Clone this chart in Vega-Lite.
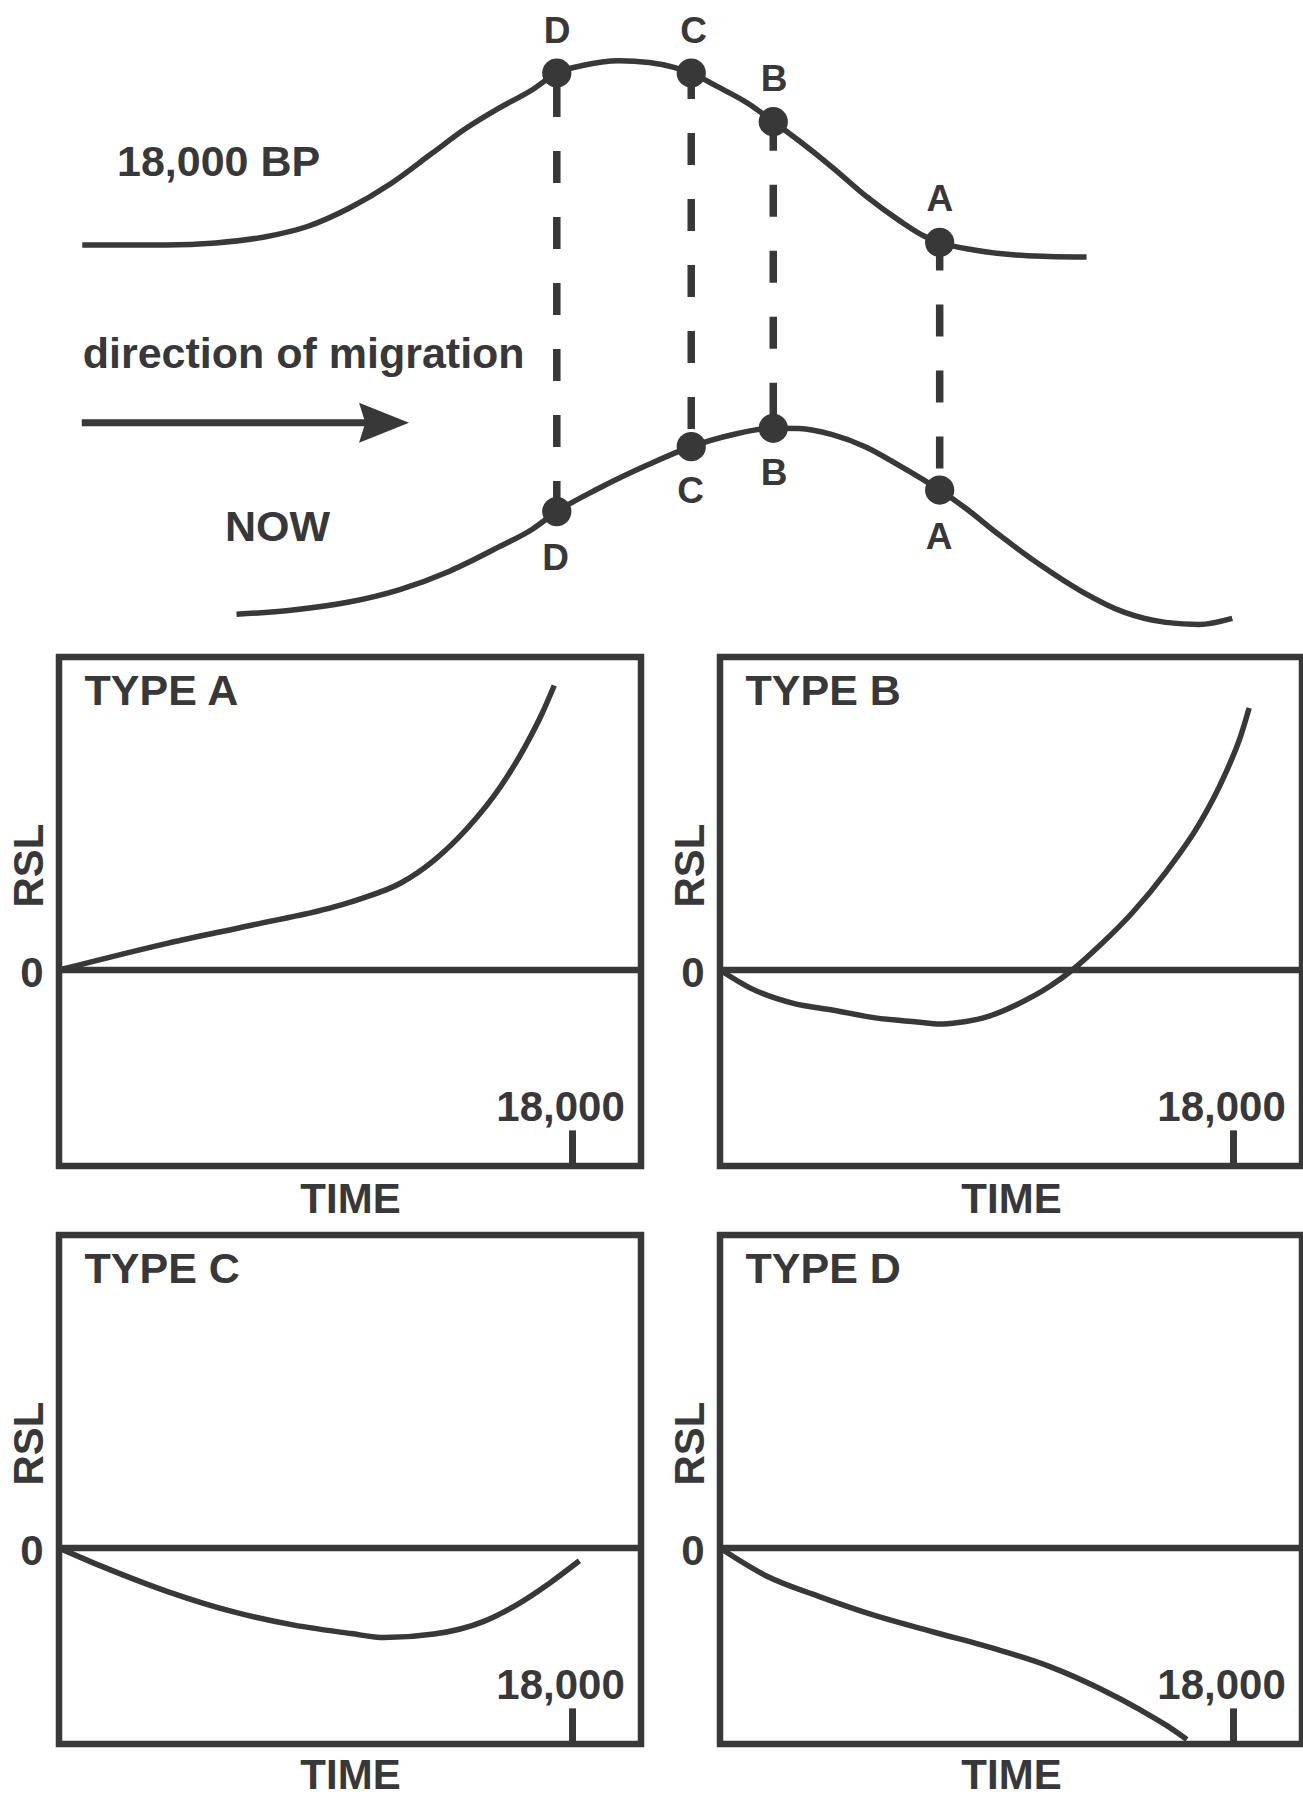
{
  "$schema": "https://vega.github.io/schema/vega-lite/v6.json",
  "padding": {"left": 4, "top": 0, "right": 0, "bottom": 0},
  "background": "white",
  "config": {
    "font": "Liberation Sans",
    "view": {"stroke": null},
    "axis": {"labelFont": "Liberation Sans", "titleFont": "Liberation Sans", "labelFontWeight": "bold", "titleFontWeight": "bold", "labelFontSize": 42, "titleFontSize": 42, "labelColor": "#383838", "titleColor": "#383838", "grid": false, "ticks": false, "domain": false},
    "text": {"font": "Liberation Sans", "fontWeight": "bold", "color": "#383838", "fontSize": 42}
  },
  "datasets": {
    "past": [
      {"pos": 5.74, "level": 61.13}, {"pos": 12.19, "level": 61.13}, {"pos": 16.05, "level": 61.44}, {"pos": 19.92, "level": 62.43},
      {"pos": 23.13, "level": 64.05}, {"pos": 26.35, "level": 66.95}, {"pos": 29.57, "level": 70.84}, {"pos": 32.79, "level": 75.7},
      {"pos": 35.37, "level": 79.59}, {"pos": 37.94, "level": 82.83}, {"pos": 40.52, "level": 85.75}, {"pos": 42.41, "level": 88.41},
      {"pos": 44.38, "level": 89.6}, {"pos": 47.22, "level": 90.37}, {"pos": 49.54, "level": 90.08}, {"pos": 51.47, "level": 89.32},
      {"pos": 52.8, "level": 88.41}, {"pos": 54.69, "level": 86.4}, {"pos": 57.26, "level": 83.49}, {"pos": 59.14, "level": 80.68},
      {"pos": 61.13, "level": 77.65}, {"pos": 63.7, "level": 73.44}, {"pos": 66.28, "level": 68.9}, {"pos": 68.86, "level": 65.02},
      {"pos": 70.79, "level": 62.54}, {"pos": 72.0, "level": 61.51}, {"pos": 74.65, "level": 60.32}, {"pos": 77.87, "level": 59.51},
      {"pos": 80.45, "level": 59.29}, {"pos": 83.35, "level": 59.19}
    ],
    "now": [
      {"pos": 17.66, "level": 2.49}, {"pos": 21.85, "level": 3.14}, {"pos": 26.35, "level": 4.44}, {"pos": 30.22, "level": 6.38},
      {"pos": 34.08, "level": 9.3}, {"pos": 37.94, "level": 13.19}, {"pos": 40.52, "level": 16.0}, {"pos": 42.41, "level": 18.8},
      {"pos": 45.67, "level": 22.5}, {"pos": 49.54, "level": 26.3}, {"pos": 52.8, "level": 29.1}, {"pos": 55.97, "level": 31.0},
      {"pos": 59.14, "level": 32.02}, {"pos": 61.13, "level": 31.98}, {"pos": 63.7, "level": 31.0}, {"pos": 66.28, "level": 29.06},
      {"pos": 68.86, "level": 26.14}, {"pos": 72.0, "level": 22.22}, {"pos": 74.01, "level": 19.33}, {"pos": 76.58, "level": 15.13},
      {"pos": 79.81, "level": 10.27}, {"pos": 83.02, "level": 6.06}, {"pos": 86.24, "level": 2.83}, {"pos": 89.47, "level": 1.21},
      {"pos": 92.04, "level": 0.87}, {"pos": 94.61, "level": 1.84}
    ],
    "links": [
      {"site": "D", "pos": 42.41, "level": 88.41, "level2": 18.8},
      {"site": "C", "pos": 52.8, "level": 88.41, "level2": 29.1},
      {"site": "B", "pos": 59.14, "level": 80.68, "level2": 32.02},
      {"site": "A", "pos": 72.0, "level": 61.51, "level2": 22.22}
    ],
    "dots": [
      {"site": "D", "pos": 42.41, "level": 88.41}, {"site": "C", "pos": 52.8, "level": 88.41},
      {"site": "B", "pos": 59.14, "level": 80.68}, {"site": "A", "pos": 72.0, "level": 61.51},
      {"site": "D", "pos": 42.41, "level": 18.8}, {"site": "C", "pos": 52.8, "level": 29.1},
      {"site": "B", "pos": 59.14, "level": 32.02}, {"site": "A", "pos": 72.0, "level": 22.22}
    ],
    "letters": [
      {"pos": 42.43, "level": 94.92, "label": "D"}, {"pos": 52.99, "level": 94.92, "label": "C"},
      {"pos": 59.21, "level": 87.3, "label": "B"}, {"pos": 72.02, "level": 68.33, "label": "A"},
      {"pos": 42.31, "level": 11.3, "label": "D"}, {"pos": 52.75, "level": 21.9, "label": "C"},
      {"pos": 59.21, "level": 24.81, "label": "B"}, {"pos": 71.95, "level": 14.62, "label": "A"}
    ],
    "notes": [
      {"pos": 8.42, "level": 72.14, "label": "18,000 BP"},
      {"pos": 5.77, "level": 41.59, "label": "direction of migration"},
      {"pos": 16.77, "level": 14.17, "label": "NOW"}
    ],
    "arrow": [{"pos": 5.7, "level": 32.9}, {"pos": 28.0, "level": 32.9}],
    "arrowhead": [{"pos": 29.06, "level": 32.9}],
    "typeA": [
      {"time": 0, "rsl": 0}, {"time": 3832, "rsl": 5.3}, {"time": 6742, "rsl": 8.8}, {"time": 9641, "rsl": 12.4},
      {"time": 10514, "rsl": 13.9}, {"time": 11981, "rsl": 17.1}, {"time": 13134, "rsl": 21.5}, {"time": 14321, "rsl": 27.9},
      {"time": 15474, "rsl": 36.0}, {"time": 16347, "rsl": 44.0}, {"time": 16941, "rsl": 50.5}, {"time": 17360, "rsl": 55.9}
    ],
    "typeB": [
      {"time": 0, "rsl": 0}, {"time": 1083, "rsl": -3.6}, {"time": 2539, "rsl": -6.5}, {"time": 3982, "rsl": -7.9},
      {"time": 5449, "rsl": -9.4}, {"time": 6906, "rsl": -10.2}, {"time": 7700, "rsl": -10.6}, {"time": 8359, "rsl": -10.3}, {"time": 9232, "rsl": -9.4},
      {"time": 10399, "rsl": -6.8}, {"time": 11562, "rsl": -3.2}, {"time": 12435, "rsl": 0.4}, {"time": 13308, "rsl": 4.8},
      {"time": 14461, "rsl": 11.3}, {"time": 15638, "rsl": 19.3}, {"time": 16801, "rsl": 28.7}, {"time": 17675, "rsl": 38.1},
      {"time": 18258, "rsl": 46.1}, {"time": 18548, "rsl": 51.5}
    ],
    "typeC": [
      {"time": 0, "rsl": 0}, {"time": 1502, "rsl": -3.6}, {"time": 3832, "rsl": -8.6}, {"time": 6158, "rsl": -12.6},
      {"time": 8198, "rsl": -15.1}, {"time": 10234, "rsl": -16.8}, {"time": 11398, "rsl": -17.6}, {"time": 13144, "rsl": -16.9},
      {"time": 14891, "rsl": -14.4}, {"time": 16057, "rsl": -11.1}, {"time": 17220, "rsl": -6.8}, {"time": 18240, "rsl": -2.5}
    ],
    "typeD": [
      {"time": 0, "rsl": 0}, {"time": 1666, "rsl": -5.6}, {"time": 3413, "rsl": -9.4},
      {"time": 5449, "rsl": -13.3}, {"time": 7486, "rsl": -16.5}, {"time": 9815, "rsl": -20.1}, {"time": 11562, "rsl": -23.3},
      {"time": 13308, "rsl": -27.6}, {"time": 14765, "rsl": -31.9}, {"time": 15638, "rsl": -34.8}, {"time": 16365, "rsl": -37.6}
    ]
  },
  "spacing": 17,
  "vconcat": [
    {
      "width": 1243,
      "height": 630,
      "view": {"stroke": null},
      "encoding": {
        "x": {"field": "pos", "type": "quantitative", "scale": {"domain": [3.94, 100], "nice": false, "zero": false}, "axis": null},
        "y": {"field": "level", "type": "quantitative", "scale": {"domain": [0, 100], "nice": false, "zero": false}, "axis": null}
      },
      "layer": [
        {"data": {"name": "past"}, "mark": {"type": "line", "interpolate": "monotone", "color": "#383838", "strokeWidth": 5.5}},
        {"data": {"name": "now"}, "mark": {"type": "line", "interpolate": "monotone", "color": "#383838", "strokeWidth": 5.5}},
        {"data": {"name": "links"}, "transform": [{"filter": "datum.site == 'D'"}], "mark": {"type": "rule", "color": "#383838", "strokeWidth": 7.5, "strokeDash": [32, 34], "strokeDashOffset": 54}, "encoding": {"y2": {"field": "level2"}}},
        {"data": {"name": "links"}, "transform": [{"filter": "datum.site == 'C'"}], "mark": {"type": "rule", "color": "#383838", "strokeWidth": 7.5, "strokeDash": [32, 34], "strokeDashOffset": 6}, "encoding": {"y2": {"field": "level2"}}},
        {"data": {"name": "links"}, "transform": [{"filter": "datum.site == 'B'"}], "mark": {"type": "rule", "color": "#383838", "strokeWidth": 7.5, "strokeDash": [32, 34], "strokeDashOffset": 3}, "encoding": {"y2": {"field": "level2"}}},
        {"data": {"name": "links"}, "transform": [{"filter": "datum.site == 'A'"}], "mark": {"type": "rule", "color": "#383838", "strokeWidth": 7.5, "strokeDash": [32, 34], "strokeDashOffset": 4}, "encoding": {"y2": {"field": "level2"}}},
        {"data": {"name": "dots"}, "mark": {"type": "point", "shape": "circle", "filled": true, "opacity": 1, "color": "#383838", "size": 855}},
        {"data": {"name": "letters"}, "mark": {"type": "text", "align": "center", "baseline": "middle", "fontSize": 37, "fontWeight": "bold", "color": "#383838"}, "encoding": {"text": {"field": "label"}}},
        {"data": {"name": "notes"}, "mark": {"type": "text", "align": "left", "baseline": "alphabetic", "fontSize": 43, "fontWeight": "bold", "color": "#383838"}, "encoding": {"text": {"field": "label"}}},
        {"data": {"name": "arrow"}, "mark": {"type": "line", "color": "#383838", "strokeWidth": 7, "strokeCap": "butt"}},
        {"data": {"name": "arrowhead"}, "mark": {"type": "point", "shape": "M1,0L-1,-0.8L-0.75,0L-1,0.8Z", "filled": true, "opacity": 1, "color": "#383838", "size": 2500}}
      ]
    },
    {
      "spacing": 7,
      "vconcat": [
        {
          "spacing": 17,
          "hconcat": [
            {
              "width": 582, "height": 509,
              "view": {"stroke": "#383838", "strokeWidth": 6.5},
              "encoding": {
                "x": {"field": "time", "type": "quantitative", "scale": {"domain": [0, 20400], "nice": false, "zero": false}, "axis": {"title": "TIME", "labels": false, "titlePadding": 13}},
                "y": {"field": "rsl", "type": "quantitative", "scale": {"domain": [-38.5, 61.5], "nice": false, "zero": false}, "axis": {"title": "RSL", "values": [0], "labelPadding": 16, "labelOffset": 3, "titleX": -30, "titleY": 208, "titleBaseline": "middle", "titleAlign": "center", "titleAngle": -90}}
              },
              "layer": [
                {"data": {"name": "typeA"}, "mark": {"type": "line", "interpolate": "monotone", "color": "#383838", "strokeWidth": 5.5}},
                {"data": {"values": [{"time": 0, "time2": 20400, "rsl": 0}]}, "mark": {"type": "rule", "color": "#383838", "strokeWidth": 6.5}, "encoding": {"x2": {"field": "time2"}}},
                {"data": {"values": [{"time": 18000, "rsl": -38.5, "rsl2": -31.5}]}, "mark": {"type": "rule", "color": "#383838", "strokeWidth": 7}, "encoding": {"y2": {"field": "rsl2"}}},
                {"data": {"values": [{"time": 18000, "rsl": -29.7, "label": "18,000"}]}, "mark": {"type": "text", "align": "center", "baseline": "alphabetic", "dx": -12, "fontSize": 42}, "encoding": {"text": {"field": "label"}}},
                {"data": {"values": [{"time": 0, "rsl": 52, "label": "TYPE A"}]}, "mark": {"type": "text", "align": "left", "baseline": "alphabetic", "dx": 25.5, "fontSize": 43}, "encoding": {"text": {"field": "label"}}}
              ]
            },
            {
              "width": 582, "height": 509,
              "view": {"stroke": "#383838", "strokeWidth": 6.5},
              "encoding": {
                "x": {"field": "time", "type": "quantitative", "scale": {"domain": [0, 20400], "nice": false, "zero": false}, "axis": {"title": "TIME", "labels": false, "titlePadding": 13}},
                "y": {"field": "rsl", "type": "quantitative", "scale": {"domain": [-38.5, 61.5], "nice": false, "zero": false}, "axis": {"title": "RSL", "values": [0], "labelPadding": 16, "labelOffset": 3, "titleX": -30, "titleY": 208, "titleBaseline": "middle", "titleAlign": "center", "titleAngle": -90}}
              },
              "layer": [
                {"data": {"name": "typeB"}, "mark": {"type": "line", "interpolate": "monotone", "color": "#383838", "strokeWidth": 5.5}},
                {"data": {"values": [{"time": 0, "time2": 20400, "rsl": 0}]}, "mark": {"type": "rule", "color": "#383838", "strokeWidth": 6.5}, "encoding": {"x2": {"field": "time2"}}},
                {"data": {"values": [{"time": 18000, "rsl": -38.5, "rsl2": -31.5}]}, "mark": {"type": "rule", "color": "#383838", "strokeWidth": 7}, "encoding": {"y2": {"field": "rsl2"}}},
                {"data": {"values": [{"time": 18000, "rsl": -29.7, "label": "18,000"}]}, "mark": {"type": "text", "align": "center", "baseline": "alphabetic", "dx": -12, "fontSize": 42}, "encoding": {"text": {"field": "label"}}},
                {"data": {"values": [{"time": 0, "rsl": 52, "label": "TYPE B"}]}, "mark": {"type": "text", "align": "left", "baseline": "alphabetic", "dx": 25.5, "fontSize": 43}, "encoding": {"text": {"field": "label"}}}
              ]
            }
          ]
        },
        {
          "spacing": 17,
          "hconcat": [
            {
              "width": 582, "height": 509,
              "view": {"stroke": "#383838", "strokeWidth": 6.5},
              "encoding": {
                "x": {"field": "time", "type": "quantitative", "scale": {"domain": [0, 20400], "nice": false, "zero": false}, "axis": {"title": "TIME", "labels": false, "titlePadding": 11}},
                "y": {"field": "rsl", "type": "quantitative", "scale": {"domain": [-38.5, 61.5], "nice": false, "zero": false}, "axis": {"title": "RSL", "values": [0], "labelPadding": 16, "labelOffset": 3, "titleX": -30, "titleY": 208, "titleBaseline": "middle", "titleAlign": "center", "titleAngle": -90}}
              },
              "layer": [
                {"data": {"name": "typeC"}, "mark": {"type": "line", "interpolate": "monotone", "color": "#383838", "strokeWidth": 5.5}},
                {"data": {"values": [{"time": 0, "time2": 20400, "rsl": 0}]}, "mark": {"type": "rule", "color": "#383838", "strokeWidth": 6.5}, "encoding": {"x2": {"field": "time2"}}},
                {"data": {"values": [{"time": 18000, "rsl": -38.5, "rsl2": -31.5}]}, "mark": {"type": "rule", "color": "#383838", "strokeWidth": 7}, "encoding": {"y2": {"field": "rsl2"}}},
                {"data": {"values": [{"time": 18000, "rsl": -29.7, "label": "18,000"}]}, "mark": {"type": "text", "align": "center", "baseline": "alphabetic", "dx": -12, "fontSize": 42}, "encoding": {"text": {"field": "label"}}},
                {"data": {"values": [{"time": 0, "rsl": 52, "label": "TYPE C"}]}, "mark": {"type": "text", "align": "left", "baseline": "alphabetic", "dx": 25.5, "fontSize": 43}, "encoding": {"text": {"field": "label"}}}
              ]
            },
            {
              "width": 582, "height": 509,
              "view": {"stroke": "#383838", "strokeWidth": 6.5},
              "encoding": {
                "x": {"field": "time", "type": "quantitative", "scale": {"domain": [0, 20400], "nice": false, "zero": false}, "axis": {"title": "TIME", "labels": false, "titlePadding": 11}},
                "y": {"field": "rsl", "type": "quantitative", "scale": {"domain": [-38.5, 61.5], "nice": false, "zero": false}, "axis": {"title": "RSL", "values": [0], "labelPadding": 16, "labelOffset": 3, "titleX": -30, "titleY": 208, "titleBaseline": "middle", "titleAlign": "center", "titleAngle": -90}}
              },
              "layer": [
                {"data": {"name": "typeD"}, "mark": {"type": "line", "interpolate": "monotone", "color": "#383838", "strokeWidth": 5.5}},
                {"data": {"values": [{"time": 0, "time2": 20400, "rsl": 0}]}, "mark": {"type": "rule", "color": "#383838", "strokeWidth": 6.5}, "encoding": {"x2": {"field": "time2"}}},
                {"data": {"values": [{"time": 18000, "rsl": -38.5, "rsl2": -31.5}]}, "mark": {"type": "rule", "color": "#383838", "strokeWidth": 7}, "encoding": {"y2": {"field": "rsl2"}}},
                {"data": {"values": [{"time": 18000, "rsl": -29.7, "label": "18,000"}]}, "mark": {"type": "text", "align": "center", "baseline": "alphabetic", "dx": -12, "fontSize": 42}, "encoding": {"text": {"field": "label"}}},
                {"data": {"values": [{"time": 0, "rsl": 52, "label": "TYPE D"}]}, "mark": {"type": "text", "align": "left", "baseline": "alphabetic", "dx": 25.5, "fontSize": 43}, "encoding": {"text": {"field": "label"}}}
              ]
            }
          ]
        }
      ]
    }
  ]
}
